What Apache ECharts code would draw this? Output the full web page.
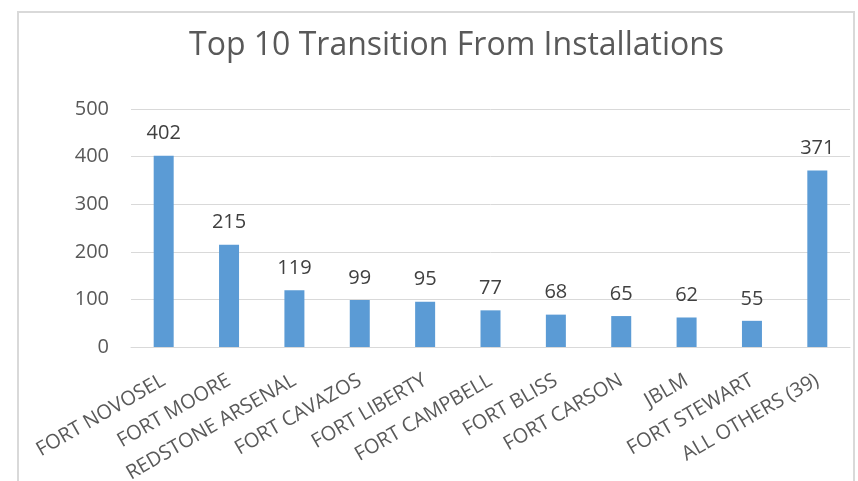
<!DOCTYPE html>
<html>
<head>
<meta charset="utf-8">
<script src="https://cdn.jsdelivr.net/npm/echarts@6/dist/echarts.min.js"></script>
<style>
  html, body { margin: 0; padding: 0; background: #fff; }
  #chart { width: 858px; height: 481px; }
</style>
</head>
<body>
<div id="chart"></div>
<script>
// 数据
const installations = [
  'FORT NOVOSEL', 'FORT MOORE', 'REDSTONE ARSENAL', 'FORT CAVAZOS', 'FORT LIBERTY',
  'FORT CAMPBELL', 'FORT BLISS', 'FORT CARSON', 'JBLM', 'FORT STEWART', 'ALL OTHERS (39)'
]
const transitions = [402, 215, 119, 99, 95, 77, 68, 65, 62, 55, 371]
const yTicks = [0, 100, 200, 300, 400, 500]

const fontFamily = '"Open Sans", "Noto Sans", sans-serif'

const chart = echarts.init(document.getElementById('chart'))

chart.setOption({
  animation: false,
  title: {
    text: 'Top 10 Transition From Installations',
    left: 184,
    top: 25,
    textStyle: { fontFamily, fontSize: 32, fontWeight: 'normal', color: '#595959' }
  },
  // 外框
  graphic: [
    {
      type: 'rect',
      shape: { x: 18, y: 12, width: 836, height: 490 },
      style: { fill: 'none', stroke: '#d9d9d9', lineWidth: 2 },
      silent: true
    }
  ],
  grid: { top: 109, bottom: 134, left: 131, right: 8, outerBoundsMode: 'none' },
  xAxis: {
    type: 'category',
    data: installations,
    axisTick: { show: false },
    axisLine: { lineStyle: { color: '#d9d9d9' } },
    axisLabel: {
      interval: 0,
      rotate: 30,
      margin: 32,
      fontFamily,
      fontSize: 20,
      color: '#595959'
    }
  },
  yAxis: {
    type: 'value',
    min: yTicks[0],
    max: yTicks[yTicks.length - 1],
    interval: 100,
    axisLine: { show: false },
    axisTick: { show: false },
    splitLine: { lineStyle: { color: '#d9d9d9' } },
    axisLabel: { margin: 22, fontFamily, fontSize: 20, color: '#595959' }
  },
  series: [
    {
      type: 'bar',
      data: transitions,
      barWidth: 20,
      itemStyle: { color: '#5b9bd5' },
      label: {
        show: true,
        position: 'top',
        distance: 12,
        fontFamily,
        fontSize: 20,
        color: '#404040'
      }
    }
  ]
})
</script>
</body>
</html>
